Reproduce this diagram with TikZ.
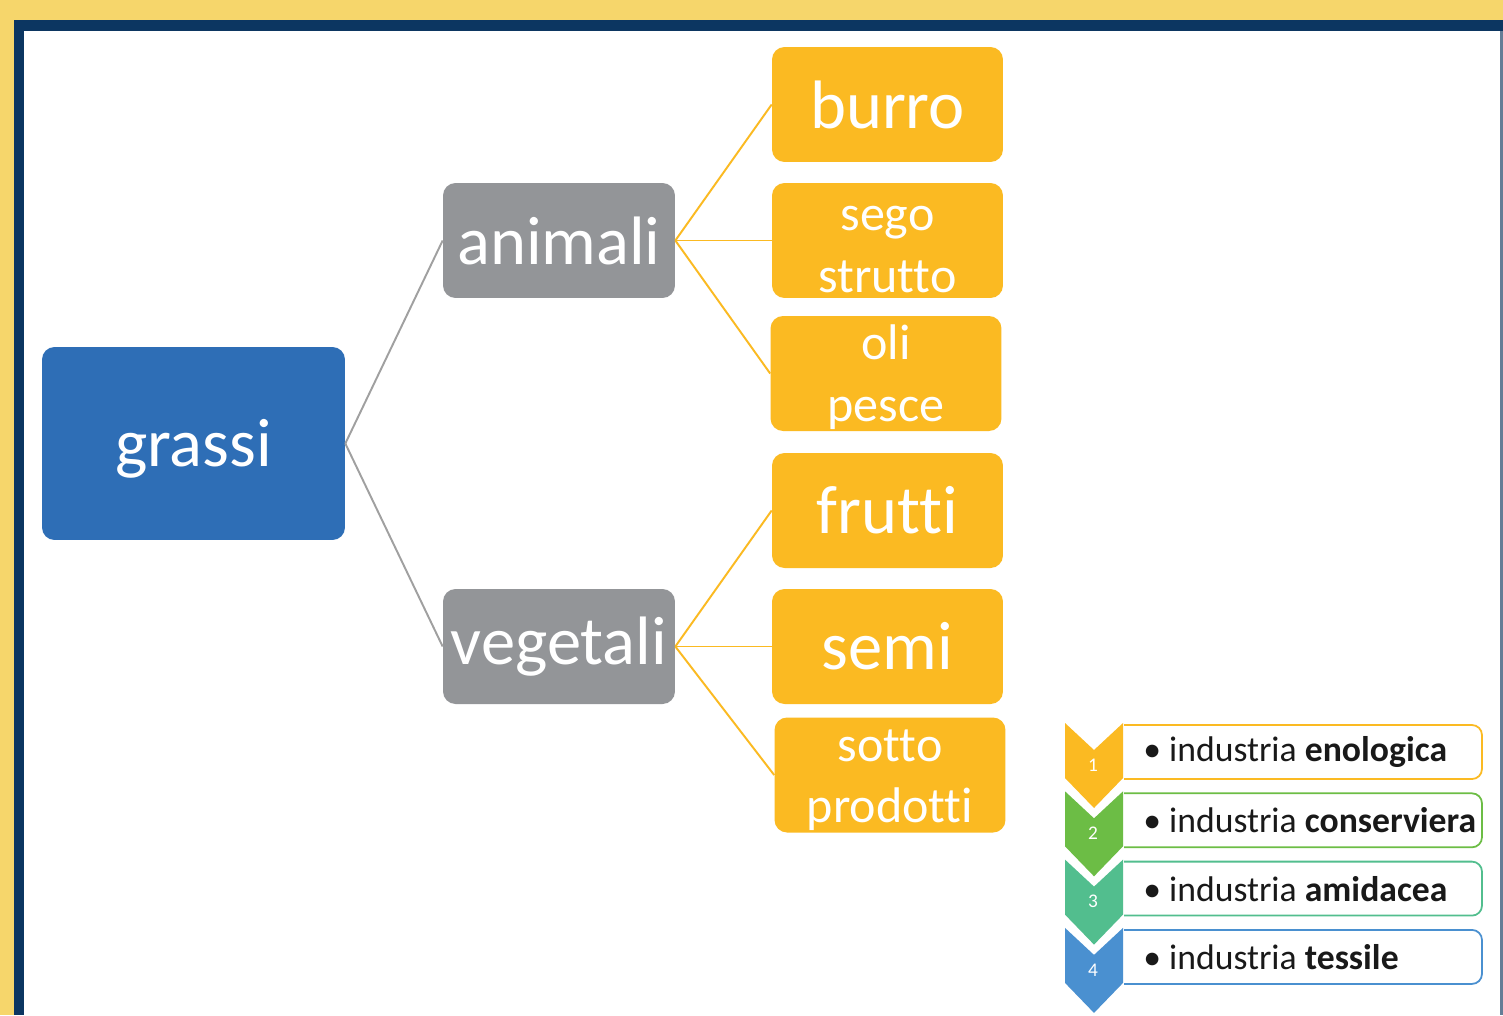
\documentclass[tikz,border=0pt]{standalone}
\usepackage{fontspec}
\setmainfont[Ligatures=NoCommon]{Carlito}

\definecolor{bgyellow}{RGB}{246,214,107}
\definecolor{frameblue}{RGB}{12,54,97}
\definecolor{edgeblue}{RGB}{100,125,150}
\definecolor{boxblue}{RGB}{46,110,182}
\definecolor{boxgray}{RGB}{147,149,152}
\definecolor{boxorange}{RGB}{251,186,34}
\definecolor{chevgreen}{RGB}{108,189,69}
\definecolor{chevteal}{RGB}{82,190,142}
\definecolor{chevblue}{RGB}{74,144,208}
\definecolor{linkgray}{RGB}{160,160,160}
\definecolor{inktext}{RGB}{25,25,25}

\newcommand{\toppad}{\rule{0pt}{24pt}}

\begin{document}
\begin{tikzpicture}[x=0.02cm,y=-0.02cm,
    tree/.style={rectangle, rounded corners=0.25cm, inner sep=0pt, text=white},
    rootbox/.style={tree, fill=boxblue, minimum width=6.06cm, minimum height=3.86cm,
        font=\fontsize{39}{46}\selectfont},
    groupbox/.style={tree, fill=boxgray, minimum width=4.64cm, minimum height=2.3cm,
        font=\fontsize{39}{46}\selectfont},
    leafbox/.style={tree, fill=boxorange, minimum width=4.62cm, minimum height=2.3cm,
        font=\fontsize{39}{46}\selectfont},
    twoline/.style={leafbox, align=center, font=\fontsize{28.5}{35}\selectfont},
    graylink/.style={draw=linkgray, line width=1.1pt},
    orangelink/.style={draw=boxorange, line width=1.1pt},
    listbox/.style={rectangle, rounded corners=0.2cm, fill=white, line width=1pt,
        minimum width=7.44cm, minimum height=1.08cm},
    listtext/.style={anchor=west, inner sep=0pt, text=inktext, font=\fontsize{20.3}{24}\selectfont},
    chevnum/.style={inner sep=0pt, text=white, font=\fontsize{11}{13}\selectfont}]

    % frame
    \fill[bgyellow] (0,0) rectangle (1503,1015);
    \fill[frameblue] (14,20) rectangle (1503,1015);
    \fill[white] (24,31) rectangle (1500,1015);
    \fill[edgeblue] (1500,31) rectangle (1503,1015);
    \useasboundingbox (0,0) rectangle (1503,1015);

    % tree
    \node[rootbox, text height=33pt] (grassi) at (193.5,443.5) {grassi};
    \node[groupbox] (animali) at (559,240.5) {animali};
    \node[groupbox] (vegetali) at (559,646.5) {vegetali};

    \node[leafbox] (burro) at (887.5,104.5) {burro};
    \node[twoline] (sego) at (887.5,240.5) {\toppad sego\\strutto};
    \node[twoline] (oli) at (886,373.5) {\toppad oli\\pesce};
    \node[leafbox] (frutti) at (887.5,510.5) {frutti};
    \node[leafbox] (semi) at (887.5,646.5) {semi};
    \node[twoline] (sotto) at (890,775) {\toppad sotto\\prodotti};

    \draw[graylink] (grassi.east) -- (animali.west);
    \draw[graylink] (grassi.east) -- (vegetali.west);

    \foreach \leaf in {burro,sego,oli}
    {
        \draw[orangelink] (animali.east) -- (\leaf.west);
    }
    \foreach \leaf in {frutti,semi,sotto}
    {
        \draw[orangelink] (vegetali.east) -- (\leaf.west);
    }

    % chevron list
    \foreach \i/\col/\word in {1/boxorange/enologica,2/chevgreen/conserviera,
                               3/chevteal/amidacea,4/chevblue/tessile}
    {
        \pgfmathsetmacro{\ytop}{723+68.3*(\i-1)}
        \node[listbox, draw=\col] (row\i) at (1296,\ytop+29) {};
        \fill[white] (1098,\ytop-2) rectangle (1123.5,\ytop+58);
        \node[listtext] (item\i) at (1143,\ytop+29) {• industria \textbf{\word}};
    }
    \foreach \i/\col in {1/boxorange,2/chevgreen,3/chevteal,4/chevblue}
    {
        \pgfmathsetmacro{\ytop}{723+68.3*(\i-1)}
        \fill[\col] (1065,\ytop) -- (1094,\ytop+27) -- (1123,\ytop) -- (1123,\ytop+55)
            -- (1094,\ytop+85) -- (1065,\ytop+55) -- cycle;
        \node[chevnum] (num\i) at (1093,\ytop+42) {\i};
    }

\end{tikzpicture}
\end{document}
